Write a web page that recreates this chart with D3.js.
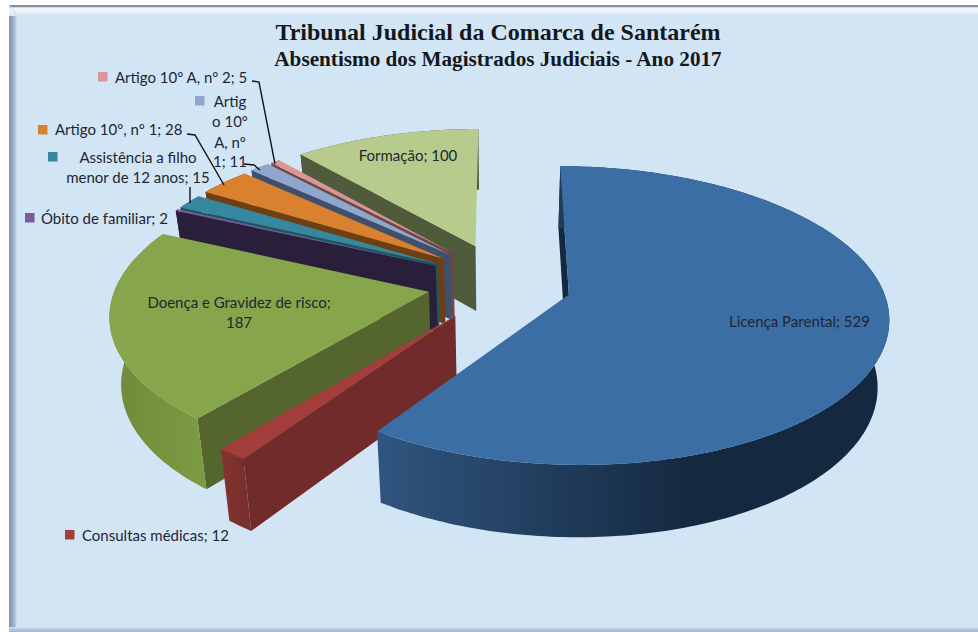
<!DOCTYPE html>
<html>
<head>
<meta charset="utf-8">
<script src="https://cdn.jsdelivr.net/npm/d3@7/dist/d3.min.js"></script>
<style>html,body{margin:0;padding:0;background:#fff}svg{display:block}</style>
</head>
<body>
<div id="chart"></div>
<script>
// --- data -----------------------------------------------------------
const titleLine = "Tribunal Judicial da Comarca de Santarém";
const subtitleLine = "Absentismo dos Magistrados Judiciais - Ano 2017";
const categories = ["Licença Parental","Consultas médicas","Doença e Gravidez de risco","Óbito de familiar","Assistência a filho menor de 12 anos","Artigo 10º, nº 1","Artigo 10º A, nº 1","Artigo 10º A, nº 2","Formação"];
const values = [529,12,187,2,15,28,11,5,100];

// --- styles ---------------------------------------------------------
const topColors  = ["#3c6ea6","#a33e3c","#87a54a","#7b5b9b","#35889f","#d9812f","#8fa7cf","#d99694","#b7cc8c"];
const wallColors = ["#14293f","#712b2a","#55652e","#2a1f3a","#1c5566","#6e3f13","#3f4f6c","#6e4746","#4f5b3a"];
const rimStops   = [["#30557f","#14283f"],["#85332f","#7a2f2d"],["#6f8a3a","#7b9a42"],["#2a1f3a","#2a1f3a"],["#1c5566","#1c5566"],["#6e3f13","#6e3f13"],["#3f4f6c","#3f4f6c"],["#6e4746","#6e4746"],["#4f5b3a","#4f5b3a"]];
// painter's order: back slices first
const drawOrder = [8,7,6,5,4,3,2,1,0];

// --- layout ---------------------------------------------------------
const W = 978, H = 632;
const cx = 499.5, cy = 282.5, a = 312, b = 143, h0 = 66;
const k = 0.14, explodeU = 0.23, explodeV = 0.28, shrink = 0.03;
const rotation = 0;
const deg = Math.PI/180;
const labelFont = "Lato, 'Open Sans', sans-serif";

const labelLayout = [
  {lines:["Licença Parental; 529"], x:729, y:[327], anchor:"start", key:[713,318]},
  {lines:["Consultas médicas; 12"], x:82, y:[541], anchor:"start", key:[65,530]},
  {lines:["Doença e Gravidez de risco;","187"], x:239, y:[308,328], anchor:"middle"},
  {lines:["Óbito de familiar; 2"], x:41, y:[224], anchor:"start", key:[25,213]},
  {lines:["Assistência a filho","menor de 12 anos; 15"], x:138, y:[163,183], anchor:"middle", key:[48,152]},
  {lines:["Artigo 10º, nº 1; 28"], x:55, y:[135], anchor:"start", key:[38,125]},
  {lines:["Artig","o 10º","A, nº","1; 11"], x:230, y:[107,127,148,167], anchor:"middle", key:[195,96]},
  {lines:["Artigo 10º A, nº 2; 5"], x:115, y:[83], anchor:"start", key:[98,72]},
  {lines:["Formação; 100"], x:408, y:[161], anchor:"middle"}
];
const leaders = [
  [[190,187],[190,203]],
  [[187,134],[195,135],[224,185]],
  [[244,164],[254,165],[260,170]],
  [[252,81],[259,82],[275,164]]
];

// --- scaffold -------------------------------------------------------
const svg = d3.select("#chart").append("svg").attr("width",W).attr("height",H).attr("viewBox",[0,0,W,H]);
const defs = svg.append("defs");
const grad = (id,x1,y1,x2,y2,stops)=>{
  const g = defs.append("linearGradient").attr("id",id).attr("gradientUnits","userSpaceOnUse")
    .attr("x1",x1).attr("y1",y1).attr("x2",x2).attr("y2",y2);
  stops.forEach(([o,c])=>g.append("stop").attr("offset",o).attr("stop-color",c));
  return `url(#${id})`;
};
// frame
svg.append("rect").attr("x",9).attr("y",5).attr("width",W-9).attr("height",H-5).attr("fill","#d2e5f5");
svg.append("rect").attr("x",9).attr("y",5).attr("width",W-9).attr("height",11)
  .attr("fill",grad("fTop",0,5,0,16,[[0,"#8a8d96"],[0.2,"#8f9299"],[0.24,"#f2f8fd"],[0.6,"#eaf3fb"],[1,"#d2e5f5"]]));
svg.append("rect").attr("x",9).attr("y",16).attr("width",8).attr("height",H-16)
  .attr("fill",grad("fLeft",9,0,17,0,[[0,"#8c909a"],[0.3,"#8f9dbb"],[0.7,"#a9bad8"],[1,"#d2e5f5"]]));
svg.append("rect").attr("x",9).attr("y",H-5).attr("width",W-9).attr("height",5)
  .attr("fill",grad("fBot",0,H-5,0,H,[[0,"#d2e5f5"],[0.5,"#b4c5de"],[1,"#a3b4d0"]]));
svg.append("path").attr("d",`M9,5L17,15`).attr("stroke","#cfd8e6").attr("stroke-width",1);

// --- projection through library scales ------------------------------
const xs = d3.scaleLinear().domain([-1,1]).range([cx-a,cx+a]);
const ys = d3.scaleLinear().domain([-1,1]).range([cy+b,cy-b]);
function project(u,v,z){
  const w = 1+k*v, s = 1-shrink*z;
  return [xs(u/w*s), ys(v/w*s)+h0*z/w];
}
const line = d3.line();
const pie = d3.pie().sort(null).startAngle(rotation*deg).endAngle((360+rotation)*deg);
const arcs = pie(values);

function offset(d){
  const m = (d.startAngle+d.endAngle)/2;
  return [explodeU*Math.sin(m), explodeV*Math.cos(m)];
}
function pointsOn(d,z){
  const n = Math.max(2,Math.ceil((d.endAngle-d.startAngle)/deg));
  const t = d3.scaleLinear().domain([0,n]).range([d.startAngle,d.endAngle]);
  const [ou,ov] = offset(d);
  return d3.range(n+1).map(i=>project(ou+Math.sin(t(i)), ov+Math.cos(t(i)), z));
}
function apex(d,z){
  const [ou,ov] = offset(d);
  return project(ou,ov,z);
}

const pieG = svg.append("g");
drawOrder.forEach(i=>{
  const d = arcs[i];
  const top = pointsOn(d,0), bot = pointsOn(d,1);
  const A0 = apex(d,0), A1 = apex(d,1);
  // radial wall at the start edge
  pieG.append("path").attr("d",line([A0,top[0],bot[0],A1])+"Z").attr("fill",wallColors[i]);
  // outer rim
  const xExt = d3.extent(top,p=>p[0]);
  const rimFill = grad("rim"+i,xExt[0],0,Math.min(xExt[1],i===0?700:xExt[1]),0,[[0,rimStops[i][0]],[1,rimStops[i][1]]]);
  pieG.append("path").attr("d",line(top.concat(bot.slice().reverse()))+"Z").attr("fill",rimFill);
  // top face
  pieG.append("path").attr("d",line([A0].concat(top))+"Z").attr("fill",topColors[i]);
});

// --- leaders --------------------------------------------------------
svg.append("g").selectAll("path").data(leaders).join("path")
  .attr("d",d=>line(d)).attr("fill","none").attr("stroke","#10141c").attr("stroke-width",1.4);

// --- labels ---------------------------------------------------------
const labG = svg.append("g").attr("font-family",labelFont).attr("font-size",15).attr("fill","#1d2733");
labelLayout.forEach((l,i)=>{
  if(l.key) labG.append("rect").attr("x",l.key[0]).attr("y",l.key[1]).attr("width",9.5).attr("height",9.5).attr("fill",topColors[i]);
  l.lines.forEach((t,j)=>labG.append("text").attr("x",l.x).attr("y",l.y[j]).attr("text-anchor",l.anchor).text(t));
});

// --- titles ---------------------------------------------------------
const tG = svg.append("g").attr("font-family","'Liberation Serif',serif").attr("font-weight","bold").attr("fill","#14181c").attr("text-anchor","middle");
tG.append("text").attr("x",498).attr("y",40).attr("font-size",24).text(titleLine);
tG.append("text").attr("x",498).attr("y",66).attr("font-size",21.2).text(subtitleLine);
</script>
</body>
</html>
